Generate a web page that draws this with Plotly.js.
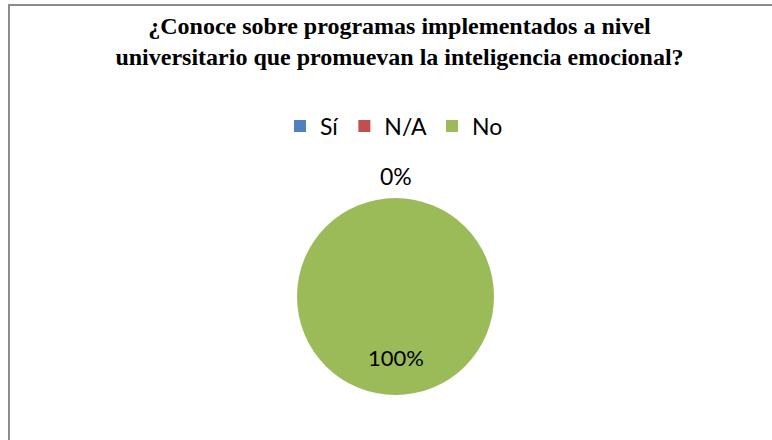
<!DOCTYPE html>
<html>
<head>
<meta charset="utf-8">
<script src="https://cdn.plot.ly/plotly-3.0.1.min.js"></script>
<style>
  html, body { margin: 0; padding: 0; background: #fff; }
  #wrap { position: relative; width: 772px; height: 440px; overflow: hidden; }
  #frame { position: absolute; left: 8px; top: 4px; width: 800px; height: 480px;
           border-left: 2px solid #8c8c8c; border-top: 2px solid #8c8c8c; pointer-events: none; }
  #chart { position: absolute; left: 0; top: 0; width: 772px; height: 440px; }
</style>
</head>
<body>
<div id="wrap">
  <div id="chart"></div>
  <div id="frame"></div>
</div>
<script>
const categories = ["Sí", "N/A", "No"];
const values = [0, 0, 100];
const colors = ["#4F81BD", "#C0504D", "#9BBB59"];
const titleText = "¿Conoce sobre programas implementados a nivel<br>universitario que promuevan la inteligencia emocional?";

const total = values.reduce((a, b) => a + b, 0);
const pct = values.map(v => Math.round(v / total * 100) + "%");

const W = 772, H = 440;
const cx = 395.5, cy = 296.5, r = 98.5;
const labelFont = "Lato, 'Open Sans', sans-serif";

// Label positions: zero slices shown once outside at top, full slice inside lower part
const annotations = [];
const zeroLabel = pct.find((p, i) => values[i] === 0);
if (zeroLabel) {
  annotations.push({ text: zeroLabel, x: cx / W, y: 1 - 176 / H, xref: "paper", yref: "paper",
    showarrow: false, xanchor: "center", yanchor: "middle",
    font: { family: labelFont, size: 23, color: "#000" } });
}
values.forEach((v, i) => {
  if (v > 0) {
    annotations.push({ text: pct[i], x: cx / W, y: 1 - 357 / H, xref: "paper", yref: "paper",
      showarrow: false, xanchor: "center", yanchor: "middle",
      font: { family: labelFont, size: 22, color: "#000" } });
  }
});

const trace = {
  type: "pie",
  labels: categories,
  values: values,
  marker: { colors: colors, line: { width: 0 } },
  sort: false,
  direction: "clockwise",
  rotation: 0,
  textinfo: "none",
  hoverinfo: "label+percent",
  domain: { x: [(cx - r) / W, (cx + r) / W], y: [1 - (cy + r) / H, 1 - (cy - r) / H] }
};

const layout = {
  width: W, height: H,
  margin: { l: 0, r: 0, t: 0, b: 0 },
  paper_bgcolor: "#fff",
  title: {
    text: titleText,
    font: { family: "'Liberation Serif', 'Times New Roman', serif", size: 24, color: "#000", weight: "bold" },
    x: 399.5 / W, xanchor: "center", y: 1 - 34 / H, yanchor: "top", yref: "container"
  },
  showlegend: true,
  legend: {
    orientation: "h", x: 394 / W, xanchor: "center", y: 1 - 126 / H, yanchor: "middle",
    font: { family: labelFont, size: 23, color: "#000" },
    itemwidth: 30, traceorder: "normal"
  },
  annotations: annotations
};

Plotly.newPlot("chart", [trace], layout, { displayModeBar: false, staticPlot: true });
</script>
</body>
</html>
